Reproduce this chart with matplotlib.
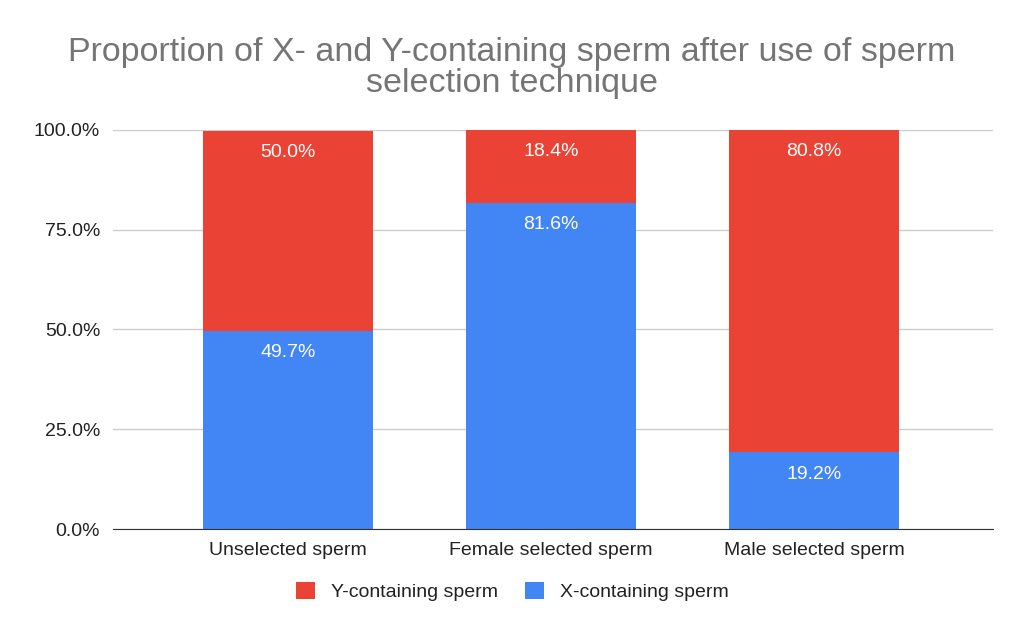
import matplotlib.pyplot as plt
import numpy as np

plt.rcParams['font.family'] = ['Liberation Sans', 'DejaVu Sans']

categories = ['Unselected sperm', 'Female selected sperm', 'Male selected sperm']
x_containing = [49.7, 81.6, 19.2]
y_containing = [50.0, 18.4, 80.8]
yticks = [0, 25, 50, 75, 100]

red = '#EA4335'
blue = '#4285F4'

fig = plt.figure(figsize=(10.24, 6.33), dpi=100)
ax = fig.add_axes([0.110, 0.164, 0.860, 0.631])

pos = np.arange(len(categories))
w = 0.646
ax.bar(pos, x_containing, w, color=blue, label='X-containing sperm', zorder=3)
ax.bar(pos, y_containing, w, bottom=x_containing, color=red, label='Y-containing sperm', zorder=3)

for i in range(len(categories)):
    ax.text(pos[i], x_containing[i] - 3.3, f'{x_containing[i]:.1f}%', ha='center', va='top',
            color='white', fontsize=14, zorder=4)
    top = x_containing[i] + y_containing[i]
    ax.text(pos[i], top - 3.3, f'{y_containing[i]:.1f}%', ha='center', va='top',
            color='white', fontsize=14, zorder=4)

ax.set_xlim(-0.665, 2.68)
ax.set_ylim(0, 100)
ax.set_yticks(yticks)
ax.set_yticklabels([f'{t:.1f}%' for t in yticks])
ax.set_xticks(pos)
ax.set_xticklabels(categories)
ax.tick_params(axis='both', length=0, labelsize=14, colors='#222222', pad=9)
ax.grid(axis='y', color='#cccccc', linewidth=1, zorder=0)
for s in ['top', 'right', 'left']:
    ax.spines[s].set_visible(False)
ax.spines['bottom'].set_color('#333333')
ax.spines['bottom'].set_zorder(5)

fig.suptitle('Proportion of X- and Y-containing sperm after use of sperm\nselection technique',
             x=0.5, y=0.942, fontsize=24.5, color='#757575', linespacing=1.0)

handles, labels = ax.get_legend_handles_labels()
fig.legend(handles[::-1], labels[::-1], loc='center', bbox_to_anchor=(0.5, 0.066), ncol=2,
           frameon=False, fontsize=14, handlelength=1.0, handleheight=1.0, columnspacing=1.4,
           handletextpad=0.8, labelcolor='#222222')

fig.savefig('out.png', dpi=100, facecolor='white')
